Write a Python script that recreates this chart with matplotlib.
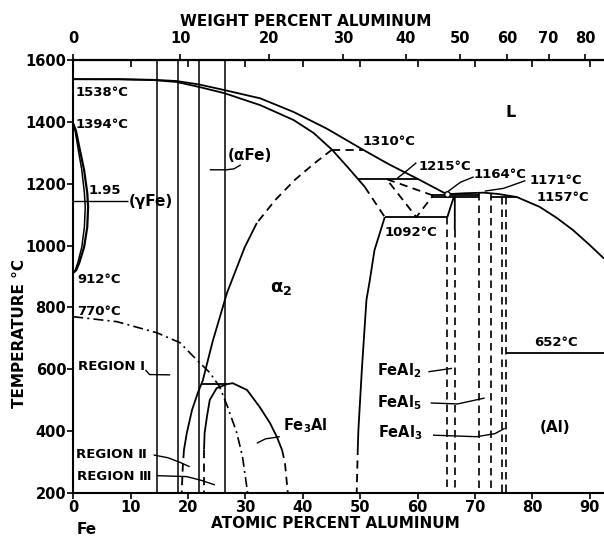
import matplotlib.pyplot as plt
import numpy as np

plt.rcParams['font.family'] = ['DejaVu Sans']
plt.rcParams['font.weight'] = 'bold'
plt.rcParams['mathtext.default'] = 'bf'

M_AL = 26.98
M_FE = 55.845

# compositions in atomic percent Al, temperatures in degrees C
liq_fe_at = [0, 8, 14, 18, 21.9, 26.3, 32.6, 38.4, 44.2, 50.5, 55, 60.1, 65.1]
liq_fe_T = [1538, 1538, 1536, 1532, 1521, 1503, 1476, 1432, 1378, 1310, 1263, 1215, 1166]
sol_fe_at = [0, 8, 14, 18, 21.9, 26.3, 32.6, 38.4, 41.9, 45.1]
sol_fe_T = [1538, 1537.5, 1535, 1529, 1513, 1493, 1454, 1406, 1364, 1310]
liq_al_at = [65.1, 68, 71.5, 74, 77.3, 81.3, 84.3, 87.1, 90.0, 92.5]
liq_al_T = [1166, 1169, 1171, 1167, 1157, 1125, 1089, 1050, 1002, 958]

gamma_out_at = [0, 0.5, 1.05, 1.9, 2.45, 2.6, 2.45, 1.9, 1.05, 0.5, 0]
gamma_out_T = [1394, 1370, 1319, 1244, 1170, 1125, 1060, 995, 944, 920, 912]
gamma_in_at = [0, 0.35, 0.8, 1.5, 1.95, 2.1, 1.95, 1.5, 0.8, 0.35, 0]
gamma_in_T = [1394, 1370, 1319, 1244, 1170, 1125, 1060, 995, 944, 920, 912]

# alpha / alpha2 boundary (dashed top, solid middle, dashed bottom)
ord_top_at = [45.1, 42.1, 38.6, 35.2, 32.0]
ord_top_T = [1310, 1267, 1212, 1147, 1073]
ord_mid_at = [32.0, 29.9, 26.8, 24.3, 22.6, 21.7, 20.7, 19.8, 19.3]
ord_mid_T = [1073, 995, 847, 690, 565, 523, 468, 394, 339]
ord_low_at = [19.3, 19.1, 18.9]
ord_low_T = [339, 284, 200]

# Fe3Al dome
dome_l_at = [26.8, 25.0, 23.8, 23.3, 22.9, 22.8]
dome_l_T = [552, 539, 501, 446, 394, 340]
dome_l2_at = [22.8, 22.8]
dome_l2_T = [340, 200]
dome_r_at = [26.8, 27.8, 30.3, 32.5, 34.3, 35.5, 36.4]
dome_r_T = [552, 555, 533, 478, 426, 381, 339]
dome_r2_at = [36.4, 36.9, 37.4]
dome_r2_T = [339, 297, 200]

# Curie temperature
curie_at = [0, 7.6, 14.6, 18.6, 21.5, 23.8, 25.5, 26.9, 28.5, 29.5, 30.4]
curie_T = [770, 754, 718, 686, 631, 589, 544, 479, 395, 318, 200]

# epsilon region and alpha2 limit on the Al side
eps_l_at = [45.1, 48.0, 50.8]
eps_l_T = [1310, 1250, 1190]
eps_l2_at = [50.8, 54.3]
eps_l2_T = [1190, 1092]
a2_r_at = [54.3, 52.5, 51.7, 51.1, 50.3, 49.7, 49.6]
a2_r_T = [1092, 985, 889, 824, 598, 404, 349]
a2_r2_at = [49.6, 49.4]
a2_r2_T = [349, 200]
eps_tri_at = [62.7, 54.6, 59.8, 62.7]
eps_tri_T = [1162, 1215, 1092, 1162]

# isotherms: (T, x from, x to, style)
iso_T = [1310, 1215, 1092, 552, 1164, 1156, 1157, 652]
iso_x0 = [45.1, 49.6, 54.3, 22.4, 62.5, 62.5, 72.8, 75.4]
iso_x1 = [50.5, 60.1, 65.2, 26.8, 70.7, 70.7, 77.3, 92.5]
iso_ls = ['--', '-', '-', '-', '-', '-', '-', '-']

# marker compositions (full height solid lines)
marker_at = [14.6, 18.2, 22.0, 26.4]

# intermetallic phase limits: (x, T top, T bottom)
pl_at = [65.2, 66.5, 70.7, 72.8, 74.7, 75.4]
pl_top = [1092, 1050, 1170, 1170, 1157, 1157]
feal2_solid_at = [65.2, 66.3, 66.5, 66.5]
feal2_solid_T = [1092, 1156, 1156, 1050]

x_ticks = list(range(0, 100, 10))
y_ticks = list(range(200, 1700, 200))
wt_ticks = list(range(0, 90, 10))


def at2wt(a):
    a = np.clip(np.asarray(a, float), 0, 100)
    return 100 * a * M_AL / (a * M_AL + (100 - a) * M_FE)


def wt2at(w):
    w = np.clip(np.asarray(w, float), 0, 100)
    return 100 * (w / M_AL) / (w / M_AL + (100 - w) / M_FE)


fig = plt.figure(figsize=(6.04, 5.36), dpi=100)
ax = fig.add_axes([73.2 / 604, 1 - 493 / 536, (604 - 73.2) / 604, 433 / 536])
ax.set_xlim(0, 92.5)
ax.set_ylim(200, 1600)

K = 'black'
LW = 1.3
DASH = (0, (4.5, 3))


def line(x, y, ls='-', lw=LW):
    ax.plot(x, y, color=K, lw=lw, ls=ls, solid_capstyle='butt')


line(liq_fe_at, liq_fe_T)
line(sol_fe_at, sol_fe_T)
line(liq_al_at, liq_al_T)
line(gamma_out_at, gamma_out_T, lw=1.6)
line(gamma_in_at, gamma_in_T, lw=1.1)
line(ord_top_at, ord_top_T, DASH)
line(ord_mid_at, ord_mid_T)
line(ord_low_at, ord_low_T, DASH)
line(dome_l_at, dome_l_T)
line(dome_l2_at, dome_l2_T, DASH)
line(dome_r_at, dome_r_T)
line(dome_r2_at, dome_r2_T, DASH)
line(curie_at, curie_T, (0, (6, 2.5, 1.2, 2.5)), lw=1.2)
line(eps_l_at, eps_l_T)
line(eps_l2_at, eps_l2_T, DASH)
line(a2_r_at, a2_r_T)
line(a2_r2_at, a2_r2_T, DASH)
line(eps_tri_at, eps_tri_T, DASH)
line(feal2_solid_at, feal2_solid_T)

for T, x0, x1, ls in zip(iso_T, iso_x0, iso_x1, iso_ls):
    line([x0, x1], [T, T], DASH if ls == '--' else '-')

for x in marker_at:
    ax.axvline(x, color=K, lw=1.1)

for x, top in zip(pl_at, pl_top):
    line([x, x], [top, 200], DASH, lw=1.2)

# leader lines
leaders = [
    ([0, 9.6], [1144, 1144]),
    ([29.2, 28.0, 26.7, 23.8], [1261, 1248, 1245, 1245]),
    ([12.6, 13.3, 16.9], [598, 583, 582]),
    ([14.0, 16.5, 18.5, 20.3], [323, 314, 300, 285]),
    ([14.6, 19.8, 22.5, 24.7], [256, 253, 240, 226]),
    ([32.0, 33.5, 36.0], [361, 375, 382]),
    ([61.9, 66.0], [592, 603]),
    ([62.3, 67.0, 71.7], [491, 488, 507]),
    ([62.7, 70.3, 73.5, 75.2], [387, 382, 392, 409]),
    ([59.8, 58.0, 56.5], [1268, 1240, 1218]),
    ([69.8, 67.5, 65.1], [1222, 1205, 1172]),
    ([78.8, 75.0, 71.7], [1210, 1185, 1176]),
]
for lx, ly in leaders:
    line(lx, ly, lw=1.0)
ax.plot([65.1], [1168], marker='o', ms=4, mfc='white', mec=K, mew=1.0)

# labels: text, x, T, size
labels = [
    ('1538°C', 0.4, 1496, 9.5),
    ('1394°C', 0.4, 1390, 9.5),
    ('912°C', 0.8, 889, 9.5),
    ('770°C', 0.6, 788, 9.5),
    ('1.95', 2.6, 1178, 9.5),
    ('(γFe)', 9.6, 1141, 11),
    ('(αFe)', 26.9, 1290, 11),
    ('1310°C', 50.5, 1335, 9.5),
    ('1215°C', 60.1, 1256, 9.5),
    ('1092°C', 54.3, 1041, 9.5),
    ('1164°C', 69.7, 1230, 9.5),
    ('1171°C', 79.6, 1212, 9.5),
    ('1157°C', 80.8, 1154, 9.5),
    ('652°C', 80.4, 686, 9.5),
    ('REGION Ⅰ', 0.9, 610, 9.5),
    ('REGION Ⅱ', 0.5, 323, 9.5),
    ('REGION Ⅲ', 0.6, 253, 9.5),
    ('FeAl$_2$', 52.9, 595, 10.5),
    ('FeAl$_5$', 52.9, 493, 10.5),
    ('FeAl$_3$', 53.1, 395, 10.5),
    ('Fe$_3$Al', 36.6, 418, 10.5),
    ('(Al)', 81.3, 413, 11),
]
for s, x, y, fs in labels:
    ax.text(x, y, s, ha='left', va='center', fontsize=fs)
ax.text(34.3, 863, r'$\alpha_2$', ha='left', va='center', fontsize=13)
ax.text(75.3, 1429, 'L', ha='left', va='center', fontsize=11.5)

# axes styling
ax.spines['right'].set_visible(False)
for s in ['left', 'bottom', 'top']:
    ax.spines[s].set_linewidth(1.5)
ax.set_xticks(x_ticks)
ax.set_yticks(y_ticks)
ax.tick_params(direction='out', length=4, width=1.2, labelsize=10.5, pad=1)

sec = ax.secondary_xaxis('top', functions=(at2wt, wt2at))
sec.set_xticks(wt_ticks)
sec.tick_params(direction='out', length=4, width=1.2, labelsize=10.5, pad=6)
sec.spines['top'].set_linewidth(1.5)

sec2 = ax.secondary_xaxis('top')
sec2.set_xticks(x_ticks[1:])
sec2.set_xticklabels([])
sec2.tick_params(direction='in', length=5, width=1.2)

fig.text(306 / 604, 1 - 21 / 536, 'WEIGHT PERCENT ALUMINUM', ha='center', va='center', fontsize=11)
fig.text(335 / 604, 1 - 523 / 536, 'ATOMIC PERCENT ALUMINUM', ha='center', va='center', fontsize=11)
fig.text(20 / 604, 1 - 334 / 536, 'TEMPERATURE °C', ha='center', va='center', fontsize=11, rotation=90)
fig.text(77 / 604, 1 - 530 / 536, 'Fe', ha='left', va='center', fontsize=11)

fig.savefig('out.png', dpi=100)
